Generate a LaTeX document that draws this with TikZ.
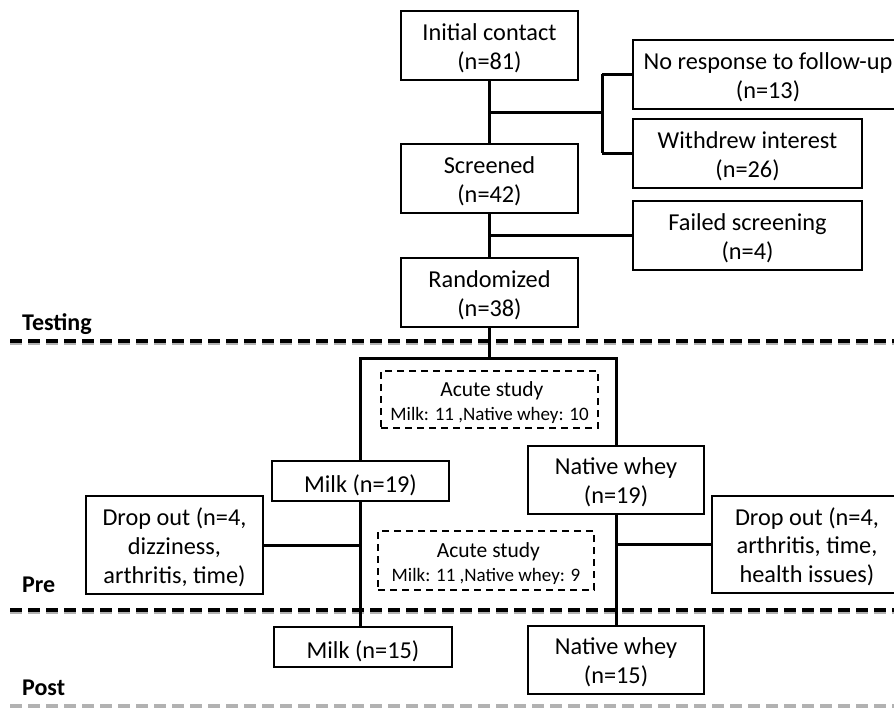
\documentclass[tikz,border=0pt]{standalone}
\usepackage{fontspec}
\setmainfont{Carlito}
\newcommand{\mystrut}[1][22pt]{\rule{0pt}{#1}}
\begin{document}
\begin{tikzpicture}[x=1pt,y=-1pt,
  box/.style={draw=black, line width=2.4pt, inner sep=0pt, align=center,
    font=\fontsize{24.3}{28.8}\selectfont},
  acutebox/.style={draw=black, line width=2.4pt, inner sep=0pt, align=center,
    dash pattern=on 7pt off 5pt, font=\fontsize{19}{23.5}\selectfont},
  conn/.style={draw=black, line width=3pt},
  sep/.style={draw=black, line width=3.5pt, dash pattern=on 12pt off 6pt},
  sepshadow/.style={draw=black!30, line width=3.5pt, dash pattern=on 12pt off 6pt},
  phase/.style={anchor=base west, inner sep=0pt, font=\fontsize{24}{28}\selectfont\bfseries}]
\clip (0,0) rectangle (894,708);
\fill[white] (0,0) rectangle (894,708);

% separators
\coordinate (s1l) at (10,341); \coordinate (s1r) at (900,341);
\coordinate (s2l) at (10,610); \coordinate (s2r) at (900,610);
\coordinate (s3l) at (10,706); \coordinate (s3r) at (900,706);
\draw[sepshadow] ([yshift=-2pt]s1l) -- ([yshift=-2pt]s1r);
\draw[sepshadow] ([yshift=-2pt]s2l) -- ([yshift=-2pt]s2r);
\draw[sep] (s1l) -- (s1r);
\draw[sep] (s2l) -- (s2r);
\draw[sepshadow] (s3l) -- (s3r);

\node[phase] (testing) at (22,331) {Testing};
\node[phase] (pre) at (22,592) {Pre};
\node[phase] (post) at (22,695) {Post};

% boxes
\node[box, minimum width=177pt, minimum height=69pt] (init) at (489.5,45.5) {\mystrut Initial contact\\(n=81)};
\node[box, minimum width=270pt, minimum height=69pt] (noresp) at (768,74.5) {\mystrut No response to follow-up\\(n=13)};
\node[box, minimum width=229pt, minimum height=69pt] (withdrew) at (747.5,153.5) {\mystrut Withdrew interest\\(n=26)};
\node[box, minimum width=177pt, minimum height=69pt] (screened) at (489.5,178.5) {\mystrut Screened\\(n=42)};
\node[box, minimum width=229pt, minimum height=69pt] (failed) at (747.5,235.5) {\mystrut Failed screening\\(n=4)};
\node[box, minimum width=177pt, minimum height=69pt] (random) at (489.5,292.5) {\mystrut Randomized\\(n=38)};

\node[acutebox, minimum width=217pt, minimum height=57pt] (acute1) at (489.5,399.5)
  {{\fontsize{21.5}{23.5}\selectfont\mystrut[21pt] Acute study}\\{Milk: 11 ,Native whey: 10}};
\node[box, minimum width=177pt, minimum height=40pt] (milk19) at (360.5,481) {\mystrut[26pt]Milk (n=19)};
\node[box, minimum width=176pt, minimum height=68pt] (nw19) at (616,480) {\mystrut Native whey\\(n=19)};
\node[box, minimum width=177pt, minimum height=98pt] (dropL) at (174.5,545) {\mystrut Drop out (n=4,\\dizziness,\\arthritis, time)};
\node[box, minimum width=190pt, minimum height=97pt] (dropR) at (807,544.5) {\mystrut Drop out (n=4,\\arthritis, time,\\health issues)};
\node[acutebox, minimum width=216pt, minimum height=59pt] (acute2) at (486,560.5)
  {{\fontsize{21.5}{23.5}\selectfont\mystrut[21pt] Acute study}\\{Milk: 11 ,Native whey: 9}};
\node[box, minimum width=178pt, minimum height=40pt] (milk15) at (363,647) {\mystrut[26pt]Milk (n=15)};
\node[box, minimum width=176pt, minimum height=68pt] (nw15) at (616,660) {\mystrut Native whey\\(n=15)};

% connectors
\coordinate (j1) at (602,113);
\draw[conn] (init.south) -- (screened.north);
\draw[conn] (j1 -| init.south) -- (j1);
\draw[conn] (j1 |- noresp.west) -- (j1 |- withdrew.west);
\draw[conn] (j1 |- noresp.west) -- (noresp.west);
\draw[conn] (j1 |- withdrew.west) -- (withdrew.west);

\draw[conn] (screened.south) -- (random.north);
\draw[conn] (random.north |- failed.west) -- (failed.west);

\coordinate (b) at (0,359);
\draw[conn] (random.south) -- (random.south |- b);
\draw[conn] (milk19.north) -- (milk19.north |- b) -- (nw19.north |- b) -- (nw19.north);

\draw[conn] (milk19.south) -- (milk19.south |- milk15.north);
\draw[conn] (dropL.east) -- (milk19.south |- dropL.east);
\draw[conn] (nw19.south) -- (nw15.north);
\draw[conn] (dropR.west) -- (nw19.south |- dropR.west);
\end{tikzpicture}
\end{document}
